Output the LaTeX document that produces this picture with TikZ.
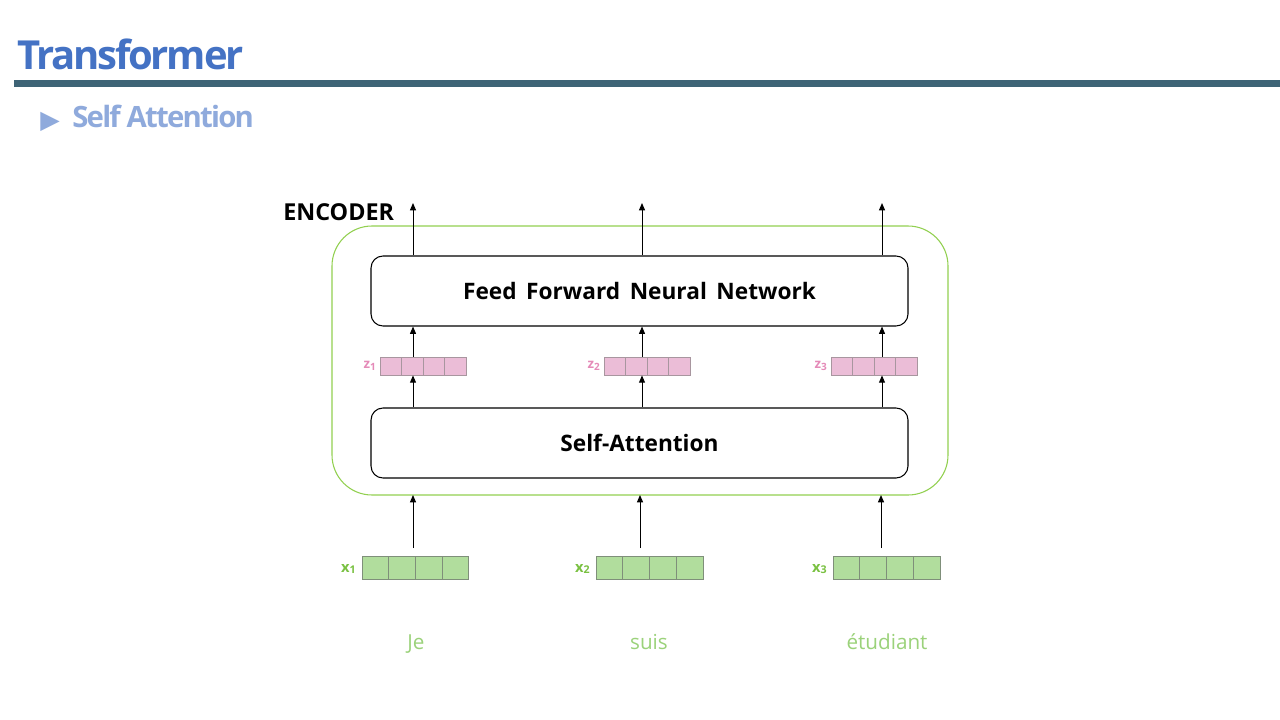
\documentclass[tikz,border=0pt]{standalone}
\usepackage{fontspec}
\setmainfont{Open Sans}
\usetikzlibrary{arrows.meta}
\definecolor{titleblue}{HTML}{4472C4}
\definecolor{subblue}{HTML}{8FAADC}
\definecolor{rulecol}{HTML}{3E6476}
\definecolor{encgreen}{HTML}{92D050}
\definecolor{zfill}{HTML}{EBBDD7}
\definecolor{zline}{HTML}{A8969F}
\definecolor{ztext}{HTML}{E58AB8}
\definecolor{xfill}{HTML}{B1DD9D}
\definecolor{xline}{HTML}{7F8F7A}
\definecolor{xtext}{HTML}{7AC142}
\definecolor{wordgreen}{HTML}{9BD27A}
\tikzset{
  layerbox/.style={draw=black, line width=0.8pt, rounded corners=9pt, minimum width=402.75pt, minimum height=52.5pt, font=\fontsize{17}{19}\selectfont\bfseries},
  zcell/.style={draw=zline, fill=zfill, line width=0.6pt, minimum width=16.1pt, minimum height=13.5pt, inner sep=0pt},
  xcell/.style={draw=xline, fill=xfill, line width=0.7pt, minimum width=20pt, minimum height=17.25pt, inner sep=0pt},
  zlab/.style={text=ztext, font=\fontsize{10}{11}\selectfont\bfseries, inner sep=0pt},
  xlab/.style={text=xtext, font=\fontsize{11}{12}\selectfont\bfseries, inner sep=0pt},
  word/.style={text=wordgreen, font=\fontsize{15.5}{17}\selectfont, inner sep=0pt},
  arr/.style={draw=black, line width=0.75pt, -{Triangle[length=5.5pt,width=4.5pt]}}
}
\newcommand\wsp{\hspace{0.42em}}
\begin{document}
\begin{tikzpicture}[x=0.75pt,y=-0.75pt]
\useasboundingbox (0,0) rectangle (1280,720);
\fill[white] (0,0) rectangle (1280,720);
% title
\node[anchor=base west, inner sep=0pt, text=titleblue, font=\fontsize{30}{32}\selectfont\bfseries] (title) at (17,70) {\addfontfeature{LetterSpace=-5.5}Transformer};
\fill[rulecol] (14,80) rectangle (1280,87);
\node[anchor=base west, inner sep=0pt, text=subblue, font=\fontsize{19}{20}\selectfont] (tri) at (40,129) {\fontspec{DejaVu Sans}\char"25B6};
\node[anchor=base west, inner sep=0pt, text=subblue, font=\fontsize{22}{24}\selectfont\bfseries] (sub) at (72,128) {\addfontfeature{LetterSpace=-6}Self Attention};
% encoder
\draw[encgreen, line width=0.8pt, rounded corners=30pt] (332,226) rectangle (948,495);
\node[anchor=base west, inner sep=0pt, font=\fontsize{17.5}{19}\selectfont\bfseries] (enc) at (283,220) {ENCODER};
\node[layerbox] (ffn) at (639.5,291) {Feed\wsp Forward\wsp Neural\wsp Network};
\node[layerbox] (sa) at (639.5,443) {Self-Attention};
% z vectors
\foreach \i/\xs in {1/380,2/604,3/831}{
  \foreach \k in {1,...,4}{
    \node[zcell] (z\i\k) at ({\xs+21.5*(\k-0.5)},366) {};
  }
  \node[zlab, anchor=east] (zl\i) at (\xs-4,366) {z\raisebox{-1.2pt}{\fontsize{7.5}{8}\selectfont\i}};
}
% x vectors
\foreach \i/\xs in {1/362,2/596,3/833}{
  \foreach \k in {1,...,4}{
    \node[xcell] (x\i\k) at ({\xs+26.75*(\k-0.5)},567.5) {};
  }
  \node[xlab, anchor=east] (xl\i) at (\xs-6,569) {x\raisebox{-1.2pt}{\fontsize{8}{9}\selectfont\i}};
}
% words
\node[word, anchor=base] (w1) at (416,649) {Je};
\node[word, anchor=base] (w2) at (649,649) {suis};
\node[word, anchor=base] (w3) at (887,649) {étudiant};
% arrow columns
\coordinate (c1) at (413,0);
\coordinate (c2) at (642,0);
\coordinate (c3) at (882,0);
\coordinate (o1) at (413,203);
\coordinate (o2) at (642,203);
\coordinate (o3) at (882,203);
\coordinate (i1) at (413,548);
\coordinate (i2) at (640,548);
\coordinate (i3) at (881,548);
\coordinate (b1) at (413,495);
\coordinate (b2) at (640,495);
\coordinate (b3) at (881,495);
\foreach \j in {1,2,3}{
  \draw[arr] (ffn.north -| c\j) -- (o\j);
  \draw[arr] (z\j1.north -| c\j) -- (ffn.south -| c\j);
  \draw[arr] (sa.north -| c\j) -- (z\j1.south -| c\j);
  \draw[arr] (i\j) -- (b\j);
}
\end{tikzpicture}
\end{document}
